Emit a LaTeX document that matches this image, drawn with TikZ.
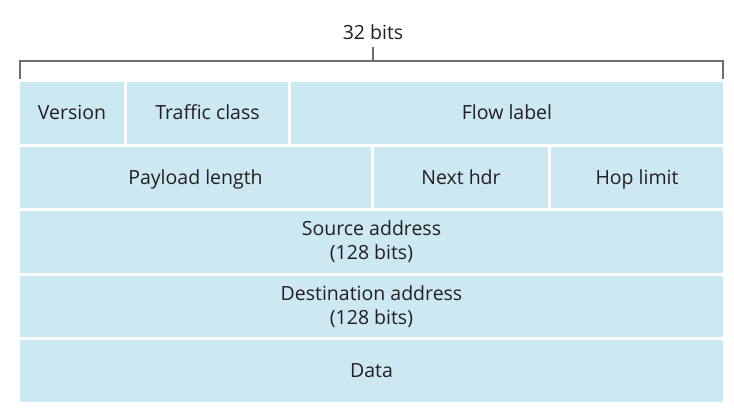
\documentclass[tikz,border=0pt]{standalone}
\usepackage{fontspec}
\setmainfont{Open Sans}
\usepackage{tikz}
\usetikzlibrary{positioning}
\definecolor{fieldblue}{HTML}{CCE8F2}
\definecolor{fieldtext}{HTML}{231F20}
\definecolor{bracketgray}{HTML}{6D6E71}
\tikzstyle{field} = [rectangle, fill=fieldblue, text=fieldtext, minimum height=61.5pt, inner sep=0pt, outer sep=0pt, text centered, align=center, font=\fontsize{19.5}{24}\selectfont]
\tikzstyle{onefield} = [field, text height=14pt, text depth=0pt]
\tikzstyle{bracket} = [draw=bracketgray, line width=1.3pt]

\begin{document}
\begin{tikzpicture}[x=1pt, y=-1pt, node distance=3pt]
\useasboundingbox (0,0) rectangle (734,413);
% first row
\node (ver) [onefield, minimum width=104pt, anchor=north west] at (20,82) {Version};
\node (tclass) [onefield, minimum width=161pt, right=of ver] {Traffic class};
\node (flow) [onefield, minimum width=432pt, right=of tclass] {Flow label};
% second row
\node (plen) [onefield, minimum width=351pt, below=of ver.south west, anchor=north west] {Payload length};
\node (nexthdr) [onefield, minimum width=174pt, right=of plen] {Next hdr};
\node (hoplim) [onefield, minimum width=172pt, right=of nexthdr] {Hop limit};
% addresses and data
\node (src) [field, minimum width=703pt, below=of plen.south west, anchor=north west] {Source address\\(128 bits)};
\node (dst) [field, minimum width=703pt, below=of src] {Destination address\\(128 bits)};
\node (data) [onefield, minimum width=703pt, below=of dst] {Data};
% 32 bits bracket
\coordinate (bl) at ([yshift=3pt]ver.north west);
\coordinate (br) at ([yshift=3pt]flow.north east);
\draw [bracket] (bl) -- ++(0,-18) -| (br);
\node (width) [text=fieldtext, font=\fontsize{19.5}{24}\selectfont, anchor=base] at (373,39) {32 bits};
\coordinate (tick) at (373,61);
\draw [bracket] (tick) -- (373,47);
\end{tikzpicture}
\end{document}
